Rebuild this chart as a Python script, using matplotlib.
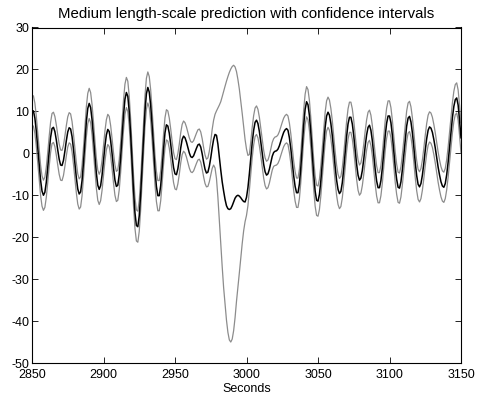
import numpy as np
import matplotlib
matplotlib.use('Agg')
import matplotlib.pyplot as plt

plt.rcParams['font.family'] = ['Liberation Sans', 'DejaVu Sans']
plt.rcParams['font.size'] = 9
plt.rcParams['axes.unicode_minus'] = False

# one sample per second, 2850 .. 3150
seconds = np.arange(2850, 3151)

# predicted mean
mean = [
    10.2, 10.1, 8.4, 5.3, 1.4, -2.8, -6.4, -9.0, -10.0, -9.3,        # 2850
    -6.9, -3.4, 0.4, 3.8, 5.9, 6.2, 5.2, 3.2, 0.8, -1.4,             # 2860
    -2.8, -2.9, -1.7, 0.5, 3.0, 5.1, 6.1, 5.8, 4.0, 1.0,             # 2870
    -2.5, -5.8, -8.5, -9.7, -9.2, -6.5, -2.2, 2.8, 7.5, 10.7,        # 2880
    11.9, 10.9, 8.0, 3.9, -0.6, -4.7, -7.6, -8.6, -7.7, -5.2,        # 2890
    -1.8, 1.7, 4.4, 5.7, 5.2, 3.0, -0.1, -3.5, -6.4, -7.9,           # 2900
    -7.6, -5.1, -0.9, 4.3, 9.1, 12.9, 14.5, 13.6, 10.0, 4.5,         # 2910
    -2.3, -8.9, -14.2, -17.2, -17.5, -14.9, -9.7, -3.1, 3.9, 10.0,   # 2920
    14.2, 15.7, 14.6, 11.4, 6.7, 1.3, -3.9, -7.9, -10.1, -10.1,      # 2930
    -7.7, -3.6, 1.0, 4.9, 6.8, 6.5, 4.8, 2.2, -0.8, -3.4,            # 2940
    -4.9, -5.1, -3.7, -1.4, 1.3, 3.3, 4.1, 3.7, 2.7, 1.4,            # 2950
    0.1, -0.8, -1.0, -0.6, 0.3, 1.2, 2.0, 2.2, 1.5, -0.1,            # 2960
    -2.1, -3.8, -4.7, -4.5, -3.1, -1.1, 1.3, 3.3, 4.5, 4.3,          # 2970
    2.2, -0.9, -4.0, -6.8, -9.0, -11.0, -12.5, -13.2, -13.4, -13.2,  # 2980
    -12.5, -11.6, -10.7, -10.2, -10.0, -10.2, -10.6, -11.1, -11.5, -11.6,  # 2990
    -10.5, -8.2, -4.9, -1.1, 2.6, 5.5, 7.4, 7.9, 7.1, 5.2,           # 3000
    2.7, 0.0, -2.6, -4.4, -5.2, -4.9, -3.8, -2.2, -0.7, 0.2,         # 3010
    0.5, 0.6, 1.0, 1.8, 2.9, 4.0, 5.0, 5.6, 5.9, 5.5,                # 3020
    3.7, 1.1, -2.2, -5.4, -7.9, -9.4, -9.4, -7.3, -3.3, 1.9,         # 3030
    6.8, 10.5, 12.3, 11.6, 9.0, 4.8, -0.2, -5.1, -9.0, -11.2,        # 3040
    -11.4, -9.8, -6.5, -2.3, 2.2, 6.2, 8.9, 9.8, 9.1, 7.1,           # 3050
    4.2, 0.5, -3.2, -6.4, -8.6, -9.6, -9.1, -7.0, -3.7, 0.2,         # 3060
    4.0, 7.0, 8.6, 8.6, 7.0, 4.2, 0.7, -2.6, -5.2, -6.4,             # 3070
    -5.9, -4.1, -1.4, 1.7, 4.4, 6.2, 6.7, 5.5, 3.0, -0.3,            # 3080
    -3.8, -6.6, -8.2, -8.2, -6.5, -3.5, 0.4, 4.2, 7.2, 8.9,          # 3090
    8.9, 7.3, 4.3, 0.5, -3.3, -6.2, -8.1, -8.3, -6.8, -3.9,          # 3100
    -0.4, 3.3, 6.5, 8.4, 8.8, 7.5, 4.9, 1.5, -2.2, -5.3,             # 3110
    -7.4, -8.0, -7.2, -5.2, -2.4, 0.7, 3.5, 5.5, 6.3, 6.0,           # 3120
    5.0, 3.3, 1.3, -1.0, -3.3, -5.2, -6.8, -7.8, -8.1, -7.2,         # 3130
    -5.1, -2.1, 1.4, 5.1, 8.5, 11.2, 12.8, 13.2, 11.5, 7.8,          # 3140
    3.7,                                                             # 3150
]

# distance of the upper confidence line above the mean
upper_dev = [
    3.6, 3.6, 3.6, 3.6, 3.6, 3.6, 3.6, 3.6, 3.6, 3.6,   # 2850
    3.6, 3.6, 3.6, 3.6, 3.6, 3.6, 3.6, 3.6, 3.6, 3.6,   # 2860
    3.6, 3.6, 3.6, 3.6, 3.6, 3.6, 3.6, 3.6, 3.6, 3.6,   # 2870
    3.6, 3.6, 3.6, 3.6, 3.6, 3.6, 3.6, 3.6, 3.6, 3.6,   # 2880
    3.6, 3.6, 3.6, 3.6, 3.6, 3.6, 3.6, 3.6, 3.6, 3.6,   # 2890
    3.6, 3.6, 3.6, 3.6, 3.6, 3.6, 3.6, 3.6, 3.6, 3.6,   # 2900
    3.6, 3.6, 3.6, 3.6, 3.6, 3.6, 3.6, 3.6, 3.6, 3.6,   # 2910
    3.7, 3.7, 3.7, 3.7, 3.7, 3.7, 3.7, 3.7, 3.7, 3.7,   # 2920
    3.7, 3.7, 3.7, 3.7, 3.6, 3.6, 3.6, 3.6, 3.6, 3.6,   # 2930
    3.6, 3.6, 3.6, 3.6, 3.6, 3.6, 3.6, 3.6, 3.6, 3.6,   # 2940
    3.6, 3.6, 3.6, 3.6, 3.6, 3.6, 3.6, 3.6, 3.6, 3.6,   # 2950
    3.6, 3.6, 3.6, 3.6, 3.6, 3.6, 3.6, 3.6, 3.6, 3.6,   # 2960
    3.5, 3.4, 3.3, 3.4, 3.6, 3.9, 4.4, 4.6, 4.8, 5.8,   # 2970
    8.6, 12.4, 16.3, 20.3, 23.8, 27.0, 29.7, 31.5, 32.7, 33.3,  # 2980
    33.2, 32.6, 31.3, 29.7, 27.6, 25.5, 23.1, 20.6, 17.8, 14.9,  # 2990
    11.5, 7.7, 4.6, 3.9, 3.6, 3.5, 3.4, 3.4, 3.4, 3.4,  # 3000
    3.3, 3.3, 3.3, 3.3, 3.3, 3.3, 3.3, 3.3, 3.3, 3.3,   # 3010
    3.4, 3.4, 3.4, 3.4, 3.4, 3.4, 3.4, 3.4, 3.4, 3.4,   # 3020
    3.5, 3.5, 3.5, 3.5, 3.5, 3.5, 3.5, 3.5, 3.5, 3.5,   # 3030
    3.6, 3.6, 3.6, 3.6, 3.6, 3.6, 3.6, 3.6, 3.6, 3.6,   # 3040
    3.6, 3.6, 3.6, 3.6, 3.6, 3.6, 3.6, 3.6, 3.6, 3.6,   # 3050
    3.6, 3.6, 3.6, 3.6, 3.6, 3.6, 3.6, 3.6, 3.6, 3.6,   # 3060
    3.6, 3.6, 3.6, 3.6, 3.6, 3.6, 3.6, 3.6, 3.6, 3.6,   # 3070
    3.6, 3.6, 3.6, 3.6, 3.6, 3.6, 3.6, 3.6, 3.6, 3.6,   # 3080
    3.6, 3.6, 3.6, 3.6, 3.6, 3.6, 3.6, 3.6, 3.6, 3.6,   # 3090
    3.6, 3.6, 3.6, 3.6, 3.6, 3.6, 3.6, 3.6, 3.6, 3.6,   # 3100
    3.6, 3.6, 3.6, 3.6, 3.6, 3.6, 3.6, 3.6, 3.6, 3.6,   # 3110
    3.6, 3.6, 3.6, 3.6, 3.6, 3.6, 3.6, 3.6, 3.6, 3.6,   # 3120
    3.6, 3.6, 3.6, 3.6, 3.6, 3.6, 3.6, 3.6, 3.6, 3.6,   # 3130
    3.6, 3.6, 3.6, 3.6, 3.6, 3.6, 3.6, 3.6, 3.6, 3.6,   # 3140
    3.6,                                                # 3150
]

# distance of the lower confidence line below the mean
lower_dev = [
    3.6, 3.6, 3.6, 3.6, 3.6, 3.6, 3.6, 3.6, 3.6, 3.6,   # 2850
    3.6, 3.6, 3.6, 3.6, 3.6, 3.6, 3.6, 3.6, 3.6, 3.6,   # 2860
    3.6, 3.6, 3.6, 3.6, 3.6, 3.6, 3.6, 3.6, 3.6, 3.6,   # 2870
    3.6, 3.6, 3.6, 3.6, 3.6, 3.6, 3.6, 3.6, 3.6, 3.6,   # 2880
    3.6, 3.6, 3.6, 3.6, 3.6, 3.6, 3.6, 3.6, 3.6, 3.6,   # 2890
    3.6, 3.6, 3.6, 3.6, 3.6, 3.6, 3.6, 3.6, 3.6, 3.6,   # 2900
    3.6, 3.6, 3.6, 3.6, 3.6, 3.6, 3.6, 3.6, 3.6, 3.6,   # 2910
    3.7, 3.7, 3.7, 3.7, 3.7, 3.7, 3.7, 3.7, 3.7, 3.7,   # 2920
    3.7, 3.7, 3.7, 3.7, 3.6, 3.6, 3.6, 3.6, 3.6, 3.6,   # 2930
    3.6, 3.6, 3.6, 3.6, 3.6, 3.6, 3.6, 3.6, 3.6, 3.6,   # 2940
    3.6, 3.6, 3.6, 3.6, 3.6, 3.6, 3.6, 3.6, 3.6, 3.6,   # 2950
    3.6, 3.6, 3.6, 3.6, 3.6, 3.6, 3.6, 3.6, 3.6, 3.6,   # 2960
    3.5, 3.4, 3.3, 3.4, 3.7, 4.1, 4.9, 6.1, 8.0, 10.3,  # 2970
    12.7, 15.1, 17.5, 20.2, 23.0, 25.0, 27.3, 29.5, 31.1, 31.8,  # 2980
    31.8, 30.7, 28.5, 25.1, 22.0, 18.3, 14.4, 10.4, 7.0, 4.7,    # 2990
    4.3, 4.3, 3.9, 3.7, 3.6, 3.5, 3.4, 3.4, 3.4, 3.4,   # 3000
    3.3, 3.3, 3.3, 3.3, 3.3, 3.3, 3.3, 3.3, 3.3, 3.3,   # 3010
    3.4, 3.4, 3.4, 3.4, 3.4, 3.4, 3.4, 3.4, 3.4, 3.4,   # 3020
    3.5, 3.5, 3.5, 3.5, 3.5, 3.5, 3.5, 3.5, 3.5, 3.5,   # 3030
    3.6, 3.6, 3.6, 3.6, 3.6, 3.6, 3.6, 3.6, 3.6, 3.6,   # 3040
    3.6, 3.6, 3.6, 3.6, 3.6, 3.6, 3.6, 3.6, 3.6, 3.6,   # 3050
    3.6, 3.6, 3.6, 3.6, 3.6, 3.6, 3.6, 3.6, 3.6, 3.6,   # 3060
    3.6, 3.6, 3.6, 3.6, 3.6, 3.6, 3.6, 3.6, 3.6, 3.6,   # 3070
    3.6, 3.6, 3.6, 3.6, 3.6, 3.6, 3.6, 3.6, 3.6, 3.6,   # 3080
    3.6, 3.6, 3.6, 3.6, 3.6, 3.6, 3.6, 3.6, 3.6, 3.6,   # 3090
    3.6, 3.6, 3.6, 3.6, 3.6, 3.6, 3.6, 3.6, 3.6, 3.6,   # 3100
    3.6, 3.6, 3.6, 3.6, 3.6, 3.6, 3.6, 3.6, 3.6, 3.6,   # 3110
    3.6, 3.6, 3.6, 3.6, 3.6, 3.6, 3.6, 3.6, 3.6, 3.6,   # 3120
    3.6, 3.6, 3.6, 3.6, 3.6, 3.6, 3.6, 3.6, 3.6, 3.6,   # 3130
    3.6, 3.6, 3.6, 3.6, 3.6, 3.6, 3.6, 3.6, 3.6, 3.6,   # 3140
    3.6,                                                # 3150
]

xticks = [2850, 2900, 2950, 3000, 3050, 3100, 3150]
yticks = [-50, -40, -30, -20, -10, 0, 10, 20, 30]

mean = np.array(mean)
upper = mean + np.array(upper_dev)
lower = mean - np.array(lower_dev)

fig = plt.figure(figsize=(4.8, 4.01), dpi=100)
ax = fig.add_axes([32/480, 1 - 363/401, 429/480, 335.5/401])

ax.plot(seconds, upper, color='#8c8c8c', lw=0.9)
ax.plot(seconds, lower, color='#8c8c8c', lw=0.9)
ax.plot(seconds, mean, color='black', lw=1.1)

ax.set_xlim(2850, 3150)
ax.set_ylim(-50, 30)
ax.set_xticks(xticks)
ax.set_yticks(yticks)
ax.tick_params(direction='in', top=True, right=True, length=4, width=0.6)
ax.tick_params(axis='x', pad=4)
ax.tick_params(axis='y', pad=2)
for s in ax.spines.values():
    s.set_linewidth(0.8)

ax.set_title('Medium length-scale prediction with confidence intervals', pad=7)
ax.set_xlabel('Seconds', labelpad=2)

fig.savefig('out.png', dpi=100)
